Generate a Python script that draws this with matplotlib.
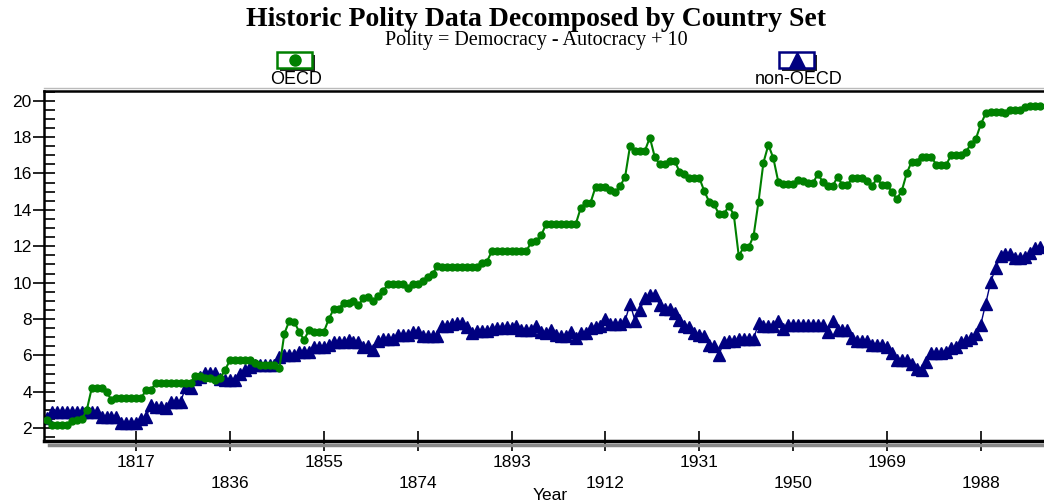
import matplotlib
matplotlib.use("Agg")
import matplotlib.pyplot as plt
import numpy as np
from matplotlib.patches import Rectangle
from matplotlib.lines import Line2D

# annual values, 1799-2000
years = np.arange(1799, 2001)

oecd = [2.45,
        2.2, 2.2, 2.2, 2.2, 2.4, 2.45, 2.5, 3.0, 4.2, 4.2,                  # 1800s
        4.2, 4.0, 3.55, 3.65, 3.65, 3.65, 3.65, 3.65, 3.65, 4.1,            # 1810s
        4.1, 4.5, 4.5, 4.5, 4.5, 4.5, 4.5, 4.5, 4.5, 4.85,                  # 1820s
        4.85, 4.75, 4.75, 4.65, 4.75, 5.2, 5.75, 5.75, 5.75, 5.75,          # 1830s
        5.75, 5.6, 5.5, 5.5, 5.5, 5.5, 5.3, 7.2, 7.9, 7.85,                 # 1840s
        7.3, 6.85, 7.4, 7.3, 7.3, 7.3, 8.0, 8.55, 8.55, 8.9,                # 1850s
        8.9, 9.0, 8.75, 9.15, 9.2, 9.0, 9.25, 9.55, 9.9, 9.9,               # 1860s
        9.9, 9.9, 9.7, 9.95, 9.95, 10.1, 10.3, 10.5, 10.9, 10.85,           # 1870s
        10.85, 10.85, 10.85, 10.85, 10.85, 10.85, 10.85, 11.1, 11.15, 11.72,  # 1880s
        11.72, 11.72, 11.72, 11.72, 11.72, 11.72, 11.72, 12.25, 12.3, 12.6,   # 1890s
        13.22, 13.22, 13.22, 13.22, 13.22, 13.22, 13.22, 14.1, 14.35, 14.4,   # 1900s
        15.25, 15.25, 15.25, 15.1, 15.0, 15.3, 15.83, 17.53, 17.25, 17.25,    # 1910s
        17.25, 17.97, 16.9, 16.5, 16.5, 16.7, 16.7, 16.1, 15.96, 15.77,       # 1920s
        15.77, 15.77, 15.04, 14.45, 14.3, 13.76, 13.76, 14.23, 13.72, 11.47,  # 1930s
        11.94, 11.94, 12.57, 14.45, 16.6, 17.57, 16.84, 15.55, 15.42, 15.42,  # 1940s
        15.42, 15.64, 15.6, 15.46, 15.46, 15.96, 15.55, 15.31, 15.31, 15.8,   # 1950s
        15.37, 15.37, 15.73, 15.73, 15.73, 15.6, 15.31, 15.73, 15.37, 15.37,  # 1960s
        15.0, 14.6, 15.04, 16.0, 16.65, 16.65, 16.92, 16.92, 16.92, 16.47,    # 1970s
        16.47, 16.47, 17.02, 17.02, 17.02, 17.2, 17.6, 17.9, 18.7, 19.3,      # 1980s
        19.37, 19.37, 19.37, 19.3, 19.5, 19.5, 19.5, 19.65, 19.73, 19.73,     # 1990s
        19.73]

non_oecd = [2.55,
            2.88, 2.88, 2.88, 2.88, 2.88, 2.88, 2.88, 2.88, 2.88, 2.88,     # 1800s
            2.6, 2.6, 2.6, 2.6, 2.28, 2.28, 2.28, 2.28, 2.5, 2.6,           # 1810s
            3.3, 3.15, 3.15, 3.1, 3.45, 3.45, 3.45, 4.25, 4.2, 4.7,         # 1820s
            4.8, 5.05, 5.05, 5.05, 4.7, 4.65, 4.65, 4.65, 5.0, 5.2,         # 1830s
            5.35, 5.45, 5.45, 5.45, 5.45, 5.45, 5.9, 6.03, 6.03, 6.03,      # 1840s
            6.2, 6.2, 6.2, 6.45, 6.45, 6.45, 6.55, 6.72, 6.72, 6.72,        # 1850s
            6.85, 6.75, 6.72, 6.45, 6.5, 6.28, 6.8, 6.9, 6.9, 6.9,          # 1860s
            7.15, 7.15, 7.15, 7.3, 7.3, 7.07, 7.05, 7.05, 7.05, 7.6,        # 1870s
            7.6, 7.72, 7.8, 7.8, 7.55, 7.22, 7.35, 7.35, 7.35, 7.45,        # 1880s
            7.5, 7.5, 7.55, 7.5, 7.6, 7.4, 7.4, 7.4, 7.6, 7.3,              # 1890s
            7.22, 7.4, 7.13, 7.07, 7.05, 7.3, 6.94, 7.22, 7.22, 7.5,        # 1900s
            7.55, 7.6, 8.02, 7.72, 7.72, 7.75, 7.92, 8.84, 7.9, 8.5,        # 1910s
            9.16, 9.32, 9.32, 8.77, 8.55, 8.55, 8.32, 7.95, 7.6, 7.58,      # 1920s
            7.22, 7.1, 7.05, 6.55, 6.5, 6.05, 6.75, 6.8, 6.8, 6.9,          # 1930s
            6.9, 6.9, 6.9, 7.77, 7.6, 7.6, 7.6, 7.88, 7.44, 7.68,           # 1940s
            7.68, 7.68, 7.68, 7.68, 7.68, 7.68, 7.68, 7.3, 7.88, 7.42,      # 1950s
            7.42, 7.42, 6.94, 6.8, 6.8, 6.8, 6.55, 6.55, 6.55, 6.45,        # 1960s
            6.15, 5.75, 5.75, 5.75, 5.55, 5.25, 5.2, 5.66, 6.12, 6.12,      # 1970s
            6.12, 6.2, 6.4, 6.48, 6.75, 6.85, 6.94, 7.2, 7.7, 8.85,         # 1980s
            10.03, 10.8, 11.45, 11.56, 11.56, 11.34, 11.34, 11.4, 11.65, 11.9,  # 1990s
            11.95]

xticks = list(range(1817, 1989, 19))
xlabels = [str(t) if i % 2 == 0 else "\n" + str(t) for i, t in enumerate(xticks)]
yticks = list(range(2, 21, 2))

GREEN = "#008000"
NAVY = "#000080"

plt.rcParams["font.family"] = ["Liberation Sans", "DejaVu Sans"]

W, H = 1044, 503
fig = plt.figure(figsize=(W / 100, H / 100), dpi=100)
ax = fig.add_axes([44.3 / W, 1 - 441 / H, 1 - 44.3 / W, 350 / H])

ax.plot(years, oecd, color=GREEN, lw=1.5, marker="o", ms=5, mec=GREEN, mfc=GREEN, zorder=3)
ax.plot(years, non_oecd, color=NAVY, lw=1.0, marker="^", ms=8, mec=NAVY, mfc=NAVY, zorder=2)

ax.set_xlim(1798.4, 2000.8)
ax.set_ylim(1.3, 20.53)

ax.set_xticks(xticks)
ax.set_xticklabels(xlabels, fontsize=12.5, linespacing=1.45)
ax.set_yticks(yticks)
ax.set_yticklabels([str(v) for v in yticks], fontsize=12.5)
ax.set_yticks(np.arange(1.5, 20.6, 0.5), minor=True)
ax.tick_params(axis="x", direction="inout", length=14.5, width=1.2, pad=3)
ax.tick_params(axis="y", which="major", direction="inout", length=16, width=1.2, pad=1)
ax.tick_params(axis="y", which="minor", direction="in", length=8, width=1.2)

ax.spines["right"].set_visible(False)
ax.spines["left"].set_linewidth(1.8)
ax.spines["top"].set_linewidth(1.8)
ax.spines["bottom"].set_linewidth(2.5)
# grey shadow lines along the frame
ax.add_line(Line2D([0.005, 1], [-0.011, -0.011], transform=ax.transAxes, color="#888888",
                   lw=2.5, clip_on=False))
ax.add_line(Line2D([0, 1], [1.008, 1.008], transform=ax.transAxes, color="#bbbbbb",
                   lw=1, clip_on=False))

fig.text(536.5 / W, 1 - 19 / H, "Historic Polity Data Decomposed by Country Set",
         ha="center", va="center", fontsize=20, fontweight="bold", family="Liberation Serif")
fig.text(536 / W, 1 - 40 / H, "Polity = Democracy - Autocracy + 10",
         ha="center", va="center", fontsize=14.5, family="Liberation Serif")
fig.text(550 / W, 1 - 495 / H, "Year", ha="center", va="center", fontsize=12.5)

# legend keys drawn as boxes with shadow
def key(x0, color, marker, ms, label):
    y0, bw, bh = 52, 35, 16
    fig.add_artist(Rectangle(((x0 + 3) / W, 1 - (y0 + bh + 3) / H), bw / W, bh / H,
                             transform=fig.transFigure, facecolor="#222222", edgecolor="none"))
    fig.add_artist(Rectangle((x0 / W, 1 - (y0 + bh) / H), bw / W, bh / H,
                             transform=fig.transFigure, facecolor="white", edgecolor=color, lw=1.8))
    fig.add_artist(Line2D([(x0 + bw / 2) / W], [1 - (y0 + bh / 2) / H], marker=marker, ms=ms,
                          color=color, transform=fig.transFigure))
    fig.text((x0 + bw / 2 + 2) / W, 1 - 79.5 / H, label, ha="center", va="center", fontsize=13)

key(277, GREEN, "o", 8, "OECD")
key(779, NAVY, "^", 11, "non-OECD")

fig.savefig("out.png", dpi=100)
